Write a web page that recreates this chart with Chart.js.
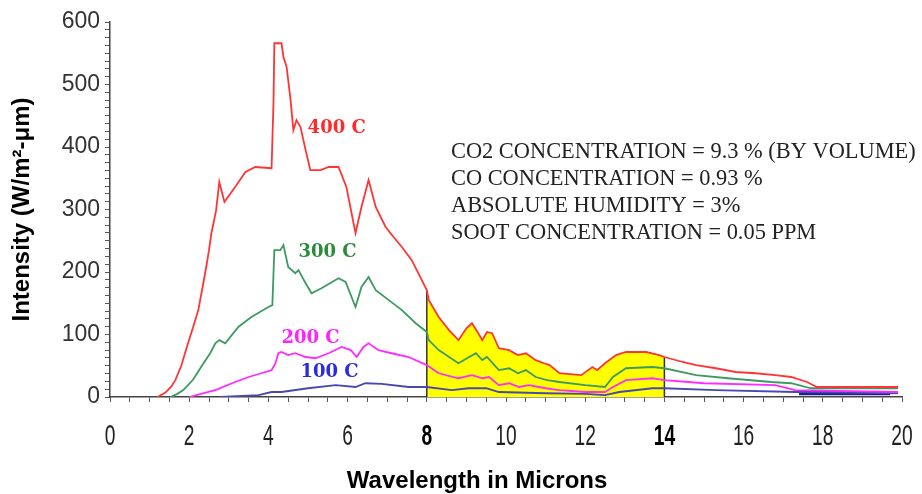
<!DOCTYPE html>
<html><head><meta charset="utf-8">
<script src="https://cdn.jsdelivr.net/npm/chart.js@4.4.1/dist/chart.umd.min.js"></script>
<style>html,body{margin:0;padding:0;background:#fff;}#wrap{width:922px;height:494px;}</style>
</head><body><div id="wrap"><canvas id="c" width="922" height="494"></canvas></div>
<script>
// ---- data ----
const redX = [1.2,1.4,1.55,1.65,1.8,1.97,2.1,2.23,2.35,2.43,2.5,2.56,2.62,2.68,2.76,2.89,3.16,3.42,3.67,4.08,4.13,4.15,4.33,4.38,4.46,4.56,4.63,4.71,4.81,4.94,5.06,5.32,5.52,5.77,5.97,6.2,6.35,6.53,6.71,6.96,7.16,7.37,7.62,8.0,8.05,8.3,8.56,8.8,9.0,9.14,9.3,9.4,9.52,9.65,9.82,10.08,10.3,10.5,10.75,10.96,11.1,11.35,11.9,12.18,12.3,12.5,12.78,13.03,13.54,13.87,14.0,14.46,14.8,15.3,15.8,16.3,16.8,17.2,17.6,17.85,18.7,19.9];
const redY = [0,7,17,27,50,86,112,139,180,208,235,262,280,299,344,312,336,360,368,366,475,566,566,544,528,475,427,443,432,395,363,363,368,368,336,262,304,347,304,272,256,240,219,171,155,128,107,91,110,118,102,91,104,102,78,75,67,70,59,54,51,38,35,48,43,54,67,72,72,67,64,56,51,46,40,38,35,32,24,16,16,16];
const greenX = [1.52,1.7,1.85,1.97,2.1,2.2,2.3,2.53,2.66,2.76,2.91,3.24,3.57,4.0,4.1,4.15,4.3,4.38,4.5,4.68,4.76,4.94,5.09,5.34,5.77,5.95,6.2,6.35,6.53,6.71,7.04,7.37,7.72,8.0,8.05,8.3,8.8,9.24,9.4,9.52,9.82,10.08,10.3,10.5,10.75,11.04,11.35,12.0,12.5,12.7,13.03,13.7,14.0,14.8,15.6,16.7,17.2,17.7,19.9];
const greenY = [0,5,11,19,28,38,48,70,86,91,86,112,128,144,147,235,235,243,208,198,203,182,166,174,190,184,144,176,192,171,155,139,118,104,91,75,54,70,59,64,43,46,38,43,32,27,24,19,16,32,46,48,46,35,30,24,22,14,14];
const magentaX = [2.0,2.3,2.66,3.16,3.5,3.82,4.08,4.18,4.25,4.33,4.5,4.68,4.94,5.19,5.52,5.85,6.08,6.23,6.4,6.53,6.78,7.11,7.54,8.0,8.3,8.8,9.14,9.4,9.57,9.82,10.08,10.33,10.58,11.0,11.35,12.0,12.5,12.7,13.03,13.7,14.0,14.6,15.0,16.8,17.3,19.9];
const magentaY = [0,5,11,24,32,38,43,54,70,72,67,70,64,62,70,80,75,64,80,86,75,70,64,51,38,30,35,30,32,19,22,16,19,14,11,8,8,16,27,30,27,24,22,19,11,8];
const blueX = [2.8,3.75,4.08,4.33,5.0,5.7,6.2,6.45,6.86,7.54,8.0,8.63,9.06,9.5,9.82,11.0,12.0,12.5,12.86,13.7,14.0,15.3,17.3,19.9];
const blueY = [0,3,8,8,14,19,16,22,21,16,16,11,14,14,8,6,5,3,8,14,14,11,8,6];
const navyBandX = [17.4,19.7];
const navyBandY = [6,6];

const bandStart = 8, bandEnd = 14;
const xTickValues = [0,2,4,6,8,10,12,14,16,18,20];
const xTickLabels = ['0','2','4','6','8','10','12','14','16','18','20'];
const boldXTicks = [8,14];
const yTickLabels = ['0','100','200','300','400','500','600'];
const curveLabels = ['400 C','300 C','200 C','100 C'];
const curveLabelColors = ['#ff2a2a','#2e8b3e','#ff22ff','#2a2ae0'];
const curveLabelAnchors = [[4.99,430],[4.76,232],[4.33,94],[4.81,40]];
const noteLines = ['CO2 CONCENTRATION = 9.3 % (BY VOLUME)','CO CONCENTRATION = 0.93 %','ABSOLUTE HUMIDITY = 3%','SOOT CONCENTRATION = 0.05 PPM'];
const noteAnchor = [8.61, 392];
const xTitle = 'Wavelength in Microns';
const xTitleCenter = 9.27;
const yTitle = 'Intensity (W/m\u00B2-\u03BCm)';

// ---- build ----
const pts = (xs, ys) => xs.map((x, i) => ({x, y: ys[i]}));
const redPts = pts(redX, redY);
const bandPts = redPts.filter(p => p.x >= bandStart && p.x <= bandEnd);
const redAt = v => redPts.find(p => p.x === v).y;

const line = (label, data, color, w) => ({label, data, borderColor: color, borderWidth: w, pointRadius: 0, tension: 0, fill: false});

const labelsPlugin = {
  id: 'labels',
  afterDatasetsDraw(chart) {
    const {ctx, scales: {x, y}, chartArea} = chart;
    ctx.save();
    ctx.textBaseline = 'middle'; ctx.textAlign = 'left';
    ctx.font = 'bold 18px "DejaVu Serif"';
    curveLabels.forEach((t, i) => {
      ctx.fillStyle = curveLabelColors[i];
      ctx.fillText(t, x.getPixelForValue(curveLabelAnchors[i][0]), y.getPixelForValue(curveLabelAnchors[i][1]));
    });
    ctx.font = '22.4px "Liberation Serif"';
    ctx.fillStyle = '#222';
    const nx = x.getPixelForValue(noteAnchor[0]), ny = y.getPixelForValue(noteAnchor[1]);
    noteLines.forEach((t, i) => ctx.fillText(t, nx, ny + i * 27));
    xTickValues.forEach((v, i) => {
      const bold = boldXTicks.includes(v);
      ctx.save();
      ctx.translate(x.getPixelForValue(v), chartArea.bottom + 40);
      ctx.scale(0.64, 1);
      ctx.font = (bold ? 'bold ' : '') + '30px "Liberation Sans"';
      ctx.fillStyle = bold ? '#000' : '#222';
      ctx.textAlign = 'center';
      ctx.fillText(xTickLabels[i], 0, 0);
      ctx.restore();
    });
    ctx.font = 'bold 24px "Liberation Sans"';
    ctx.fillStyle = '#000';
    ctx.textAlign = 'center';
    ctx.fillText(xTitle, x.getPixelForValue(xTitleCenter), 481);
    ctx.restore();
  }
};

new Chart(document.getElementById('c'), {
  type: 'line',
  data: {
    datasets: [
      line('400 C', redPts, '#ff3535', 1.8),
      line('300 C', pts(greenX, greenY), '#3d9a60', 1.8),
      line('200 C', pts(magentaX, magentaY), '#ff2cff', 1.8),
      line('100 C', pts(blueX, blueY), '#4848b0', 1.8),
      line('band', pts(navyBandX, navyBandY), '#1c1c8a', 4),
      line('v8', [{x: bandStart, y: 0}, {x: bandStart, y: redAt(bandStart)}], '#333', 1.5),
      line('v14', [{x: bandEnd, y: 0}, {x: bandEnd, y: redAt(bandEnd)}], '#333', 1.5),
      {label: 'fill', data: bandPts, borderWidth: 0, pointRadius: 0, tension: 0, fill: 'origin', backgroundColor: '#ffff00', order: 5}
    ]
  },
  options: {
    responsive: false,
    devicePixelRatio: 1,
    animation: false,
    layout: {padding: {top: 22, right: 20, left: 0, bottom: 0}},
    plugins: {legend: {display: false}, tooltip: {enabled: false}},
    scales: {
      x: {
        type: 'linear', min: 0, max: 20,
        ticks: {stepSize: 0.5, autoSkip: false, maxRotation: 0, callback: () => ''},
        grid: {drawOnChartArea: false, drawTicks: true, tickLength: 5, color: '#555'},
        border: {color: '#444', width: 1.5},
        afterFit(s) { s.height = 97; }
      },
      y: {
        min: 0, max: 600,
        ticks: {stepSize: 12.5, autoSkip: false, padding: 5, color: '#333',
          font: {family: '"Liberation Sans"', size: 23},
          callback: v => (v % 100 === 0 ? yTickLabels[v / 100] : '')},
        grid: {drawOnChartArea: false, drawTicks: true, tickLength: 5, color: '#555'},
        border: {color: '#444', width: 1.5},
        title: {display: true, text: yTitle, color: '#000', font: {family: '"Liberation Sans"', size: 24, weight: 'bold'}, padding: {top: 8, bottom: 0}},
        afterFit(s) { s.width = 110; }
      }
    }
  },
  plugins: [labelsPlugin]
});
</script></body></html>
